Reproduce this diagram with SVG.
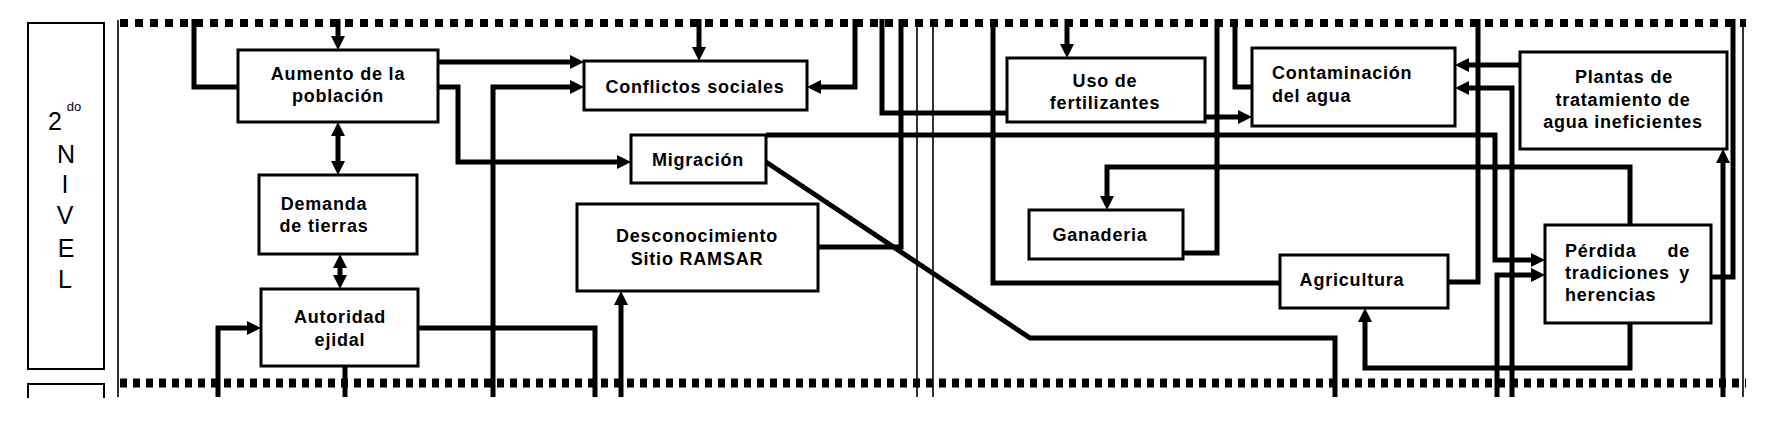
<svg xmlns="http://www.w3.org/2000/svg" width="1772" height="428" viewBox="0 0 1772 428">
<style>
.bg{fill:#fff}
.box{fill:#fff;stroke:#000;stroke-width:3}
.lbl{fill:none;stroke:#000;stroke-width:2}
.t{font-family:"Liberation Sans",Arial,sans-serif;font-size:18px;font-weight:bold;letter-spacing:0.8px;fill:#000}
.tm{text-anchor:middle}
.te{text-anchor:end}
.lv{font-family:"Liberation Sans",Arial,sans-serif;font-size:25px;fill:#000;text-anchor:middle}
.c{fill:none;stroke:#000;stroke-width:5;stroke-linejoin:miter}
.thin{fill:none;stroke:#000;stroke-width:1.6}
.dashT{fill:none;stroke:#000;stroke-width:8;stroke-dasharray:8 7}
.dashB{fill:none;stroke:#000;stroke-width:9;stroke-dasharray:7 6}
</style>
<defs>
<marker id="ah" viewBox="0 0 14 14" refX="4" refY="7" markerWidth="14" markerHeight="14" markerUnits="userSpaceOnUse" orient="auto-start-reverse">
<path d="M0,0 L14,7 L0,14 z" fill="#000"/>
</marker>
</defs>
<rect class="bg" x="0" y="0" width="1772" height="428"/>

<g id="frame">
<rect class="lbl" x="28" y="23" width="76" height="346"/>
<path class="lbl" d="M28,398 V384 H104 V398"/>
<line class="thin" x1="118" y1="20" x2="118" y2="397" stroke-width="2"/>
<line class="thin" x1="1743" y1="20" x2="1743" y2="397" stroke-width="2"/>
<line class="thin" x1="917" y1="19" x2="917" y2="397"/>
<line class="thin" x1="933" y1="19" x2="933" y2="397"/>
<line class="dashT" x1="120" y1="23" x2="1746" y2="23"/>
<line class="dashB" x1="120" y1="383" x2="1746" y2="383"/>
<text class="lv" x="55" y="130">2</text>
<text x="74" y="111" font-family="Liberation Sans, Arial, sans-serif" font-size="13" text-anchor="middle">do</text>
<text class="lv" x="66" y="163">N</text>
<text class="lv" x="65" y="193">I</text>
<text class="lv" x="65" y="224">V</text>
<text class="lv" x="66" y="257">E</text>
<text class="lv" x="65" y="288">L</text>
</g>

<g id="connectors">
<path class="c" d="M194,19 V87 H238"/>
<path class="c" d="M338,19 V40" marker-end="url(#ah)"/>
<path class="c" d="M338,132 V165" marker-start="url(#ah)" marker-end="url(#ah)"/>
<path class="c" d="M340,264 V279" marker-start="url(#ah)" marker-end="url(#ah)"/>
<path class="c" d="M218,397 V328 H251" marker-end="url(#ah)"/>
<path class="c" d="M345,366 V397"/>
<path class="c" d="M418,328 H595 V397"/>
<path class="c" d="M438,62 H574" marker-end="url(#ah)"/>
<path class="c" d="M438,87 H458 V162 H621" marker-end="url(#ah)"/>
<path class="c" d="M493,397 V87 H574" marker-end="url(#ah)"/>
<path class="c" d="M699,19 V51" marker-end="url(#ah)"/>
<path class="c" d="M855,19 V87 H817" marker-end="url(#ah)"/>
<path class="c" d="M882,19 V113 H1007"/>
<path class="c" d="M766,135 H1495 V260 H1535" marker-end="url(#ah)"/>
<path class="c" d="M766,162 L1030,338 H1335 V397" stroke-width="3"/>
<path class="c" d="M818,247 H901 V19"/>
<path class="c" d="M621,397 V301" marker-end="url(#ah)"/>
<path class="c" d="M993,19 V283 H1280"/>
<path class="c" d="M1067,19 V48" marker-end="url(#ah)"/>
<path class="c" d="M1205,117 H1242" marker-end="url(#ah)"/>
<path class="c" d="M1217,19 V253 H1183"/>
<path class="c" d="M1235,19 V87 H1252"/>
<path class="c" d="M1630,225 V167 H1107 V200" marker-end="url(#ah)"/>
<path class="c" d="M1448,282 H1478 V19"/>
<path class="c" d="M1520,65 H1465" marker-end="url(#ah)"/>
<path class="c" d="M1512,397 V88 H1465" marker-end="url(#ah)"/>
<path class="c" d="M1497,397 V275 H1535" marker-end="url(#ah)"/>
<path class="c" d="M1630,323 V368 H1365 V318" marker-end="url(#ah)"/>
<path class="c" d="M1711,277 H1733 V19"/>
<path class="c" d="M1723,397 V159" stroke-width="7" marker-end="url(#ah)"/>
</g>

<g id="aumento">
<rect class="box" x="238" y="50" width="200" height="72"/>
<text class="t tm" x="338" y="80">Aumento de la</text>
<text class="t tm" x="338" y="102">población</text>
</g>
<g id="demanda">
<rect class="box" x="259" y="175" width="158" height="79"/>
<text class="t tm" x="324" y="210">Demanda</text>
<text class="t tm" x="324" y="232">de tierras</text>
</g>
<g id="autoridad">
<rect class="box" x="261" y="289" width="157" height="77"/>
<text class="t tm" x="340" y="323">Autoridad</text>
<text class="t tm" x="340" y="346">ejidal</text>
</g>
<g id="conflictos">
<rect class="box" x="584" y="61" width="223" height="49"/>
<text class="t tm" x="695" y="93">Conflictos sociales</text>
</g>
<g id="migracion">
<rect class="box" x="631" y="135" width="135" height="48"/>
<text class="t tm" x="698" y="166">Migración</text>
</g>
<g id="desconocimiento">
<rect class="box" x="577" y="204" width="241" height="87"/>
<text class="t tm" x="697" y="242">Desconocimiento</text>
<text class="t tm" x="697" y="265">Sitio RAMSAR</text>
</g>
<g id="uso">
<rect class="box" x="1007" y="58" width="198" height="64"/>
<text class="t tm" x="1105" y="87">Uso de</text>
<text class="t tm" x="1105" y="109">fertilizantes</text>
</g>
<g id="contaminacion">
<rect class="box" x="1252" y="48" width="203" height="78"/>
<text class="t" x="1272" y="79">Contaminación</text>
<text class="t" x="1272" y="102">del agua</text>
</g>
<g id="plantas">
<rect class="box" x="1520" y="52" width="207" height="97"/>
<text class="t tm" x="1624" y="83">Plantas de</text>
<text class="t tm" x="1623" y="106">tratamiento de</text>
<text class="t tm" x="1623" y="128">agua ineficientes</text>
</g>
<g id="ganaderia">
<rect class="box" x="1029" y="210" width="154" height="49"/>
<text class="t tm" x="1100" y="241">Ganaderia</text>
</g>
<g id="agricultura">
<rect class="box" x="1280" y="255" width="168" height="53"/>
<text class="t tm" x="1352" y="286">Agricultura</text>
</g>
<g id="perdida">
<rect class="box" x="1545" y="225" width="166" height="98"/>
<text class="t" x="1565" y="257">Pérdida</text>
<text class="t te" x="1690" y="257">de</text>
<text class="t" x="1565" y="279">tradiciones</text>
<text class="t te" x="1690" y="279">y</text>
<text class="t" x="1565" y="301">herencias</text>
</g>
</svg>
